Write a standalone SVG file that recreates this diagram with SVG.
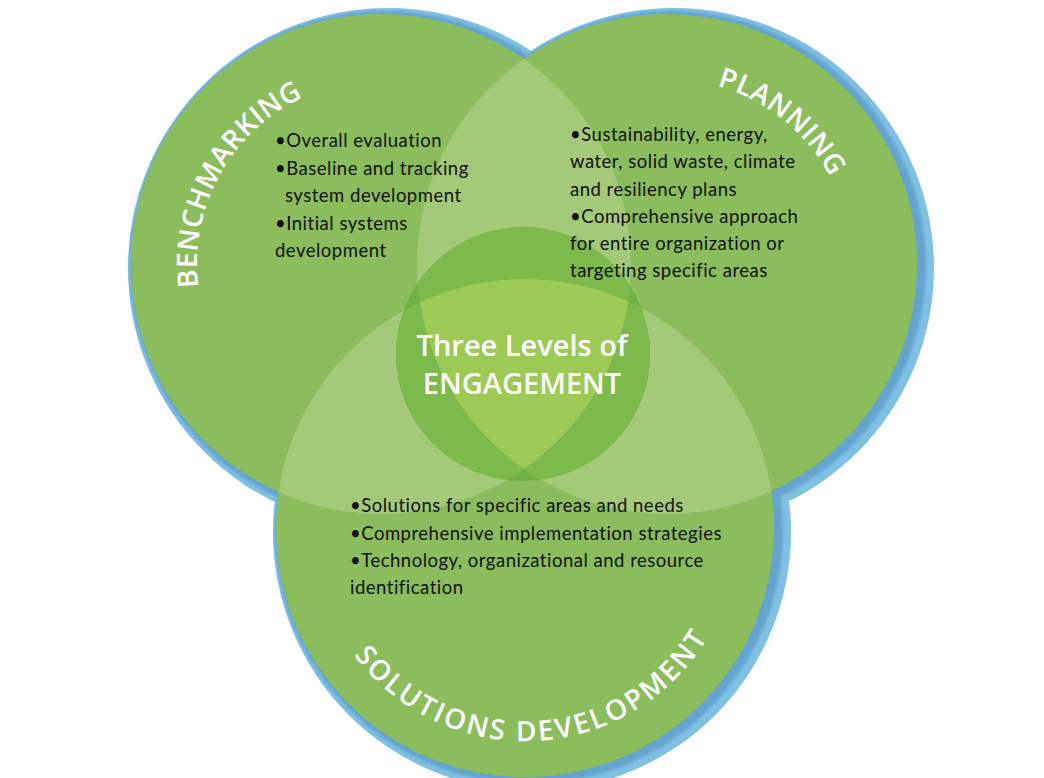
<svg xmlns="http://www.w3.org/2000/svg" width="1044" height="778" viewBox="0 0 1044 778">
<defs>
<clipPath id="cL"><circle cx="381" cy="264" r="250"/></clipPath>
<clipPath id="cR"><circle cx="667" cy="264" r="250"/></clipPath>
<clipPath id="cB"><circle cx="525" cy="528" r="249"/></clipPath>
<clipPath id="cC"><circle cx="523" cy="354" r="127"/></clipPath>
<path id="arcBench" d="M208.1,326.9 A184,184 0 0 1 412.95,82.8"/>
<path id="arcPlan" d="M603.7,90.2 A185,185 0 0 1 849.2,296.1"/>
<path id="arcSol" d="M315.2,565 A213,213 0 0 0 734.8,565"/>
<filter id="soft" x="-10%" y="-10%" width="120%" height="120%"><feGaussianBlur stdDeviation="1.5"/></filter>
</defs>
<style>
.base{fill:#8bbd5d}
.dbl{fill:#a3c979}
.cdark{fill:#6fb145}
.cdbl{fill:#7cba4c}
.ctri{fill:#9dc955}
.title{font-family:"Open Sans","DejaVu Sans",sans-serif;font-weight:600;font-size:28px;fill:#ffffff;letter-spacing:0.5px}
.bul{font-family:Lato,"Noto Sans",sans-serif;font-size:18.5px;letter-spacing:0.5px;fill:#111111}
.center{font-family:"Open Sans","DejaVu Sans",sans-serif;font-weight:600;font-size:29px;fill:#ffffff;text-anchor:middle}
</style>
<rect width="1044" height="778" fill="#ffffff"/>
<g id="shadow">
<g fill="#80c0e3">
<circle cx="388" cy="268" r="260"/>
<circle cx="674" cy="268" r="260"/>
<circle cx="532" cy="532" r="259"/>
</g>
<g fill="#64a4cf" filter="url(#soft)">
<circle cx="385" cy="266" r="255"/>
<circle cx="671" cy="266" r="255"/>
<circle cx="529" cy="530" r="254"/>
</g>
</g>
<g id="venn-fills">
<circle class="base" cx="381" cy="264" r="250"/>
<circle class="base" cx="667" cy="264" r="250"/>
<circle class="base" cx="525" cy="528" r="249"/>
<circle class="dbl" cx="667" cy="264" r="250" clip-path="url(#cL)"/>
<circle class="dbl" cx="525" cy="528" r="249" clip-path="url(#cL)"/>
<circle class="dbl" cx="525" cy="528" r="249" clip-path="url(#cR)"/>
</g>
<g id="node-center">
<circle class="cdark" cx="523" cy="354" r="127"/>
<g clip-path="url(#cC)">
<g class="cdbl">
<circle cx="667" cy="264" r="250" clip-path="url(#cL)"/>
<circle cx="525" cy="528" r="249" clip-path="url(#cL)"/>
<circle cx="525" cy="528" r="249" clip-path="url(#cR)"/>
</g>
<g clip-path="url(#cR)"><circle class="ctri" cx="525" cy="528" r="249" clip-path="url(#cL)"/></g>
</g>
<text class="center" x="522" y="356">Three Levels of</text>
<text class="center" x="522" y="394">ENGAGEMENT</text>
</g>
<g id="node-benchmarking">
<text class="title" text-anchor="middle"><textPath href="#arcBench" startOffset="157">BENCHMARKING</textPath></text>
<text class="bul" x="275" y="147">•Overall evaluation</text>
<text class="bul" x="275" y="175">•Baseline and tracking</text>
<text class="bul" x="285" y="202">system development</text>
<text class="bul" x="275" y="230">•Initial systems</text>
<text class="bul" x="275" y="257">development</text>
</g>
<g id="node-planning">
<text class="title" text-anchor="middle"><textPath href="#arcPlan" startOffset="190">PLANNING</textPath></text>
<text class="bul" x="570" y="141">•Sustainability, energy,</text>
<text class="bul" x="570" y="168">water, solid waste, climate</text>
<text class="bul" x="570" y="196">and resiliency plans</text>
<text class="bul" x="570" y="223">•Comprehensive approach</text>
<text class="bul" x="570" y="250">for entire organization or</text>
<text class="bul" x="570" y="277">targeting specific areas</text>
</g>
<g id="node-solutions">
<text class="title" text-anchor="middle" style="letter-spacing:2.5px"><textPath href="#arcSol" startOffset="309">SOLUTIONS DEVELOPMENT</textPath></text>
<text class="bul" x="350" y="512">•Solutions for specific areas and needs</text>
<text class="bul" x="350" y="540">•Comprehensive implementation strategies</text>
<text class="bul" x="350" y="567">•Technology, organizational and resource</text>
<text class="bul" x="350" y="594">identification</text>
</g>
</svg>
